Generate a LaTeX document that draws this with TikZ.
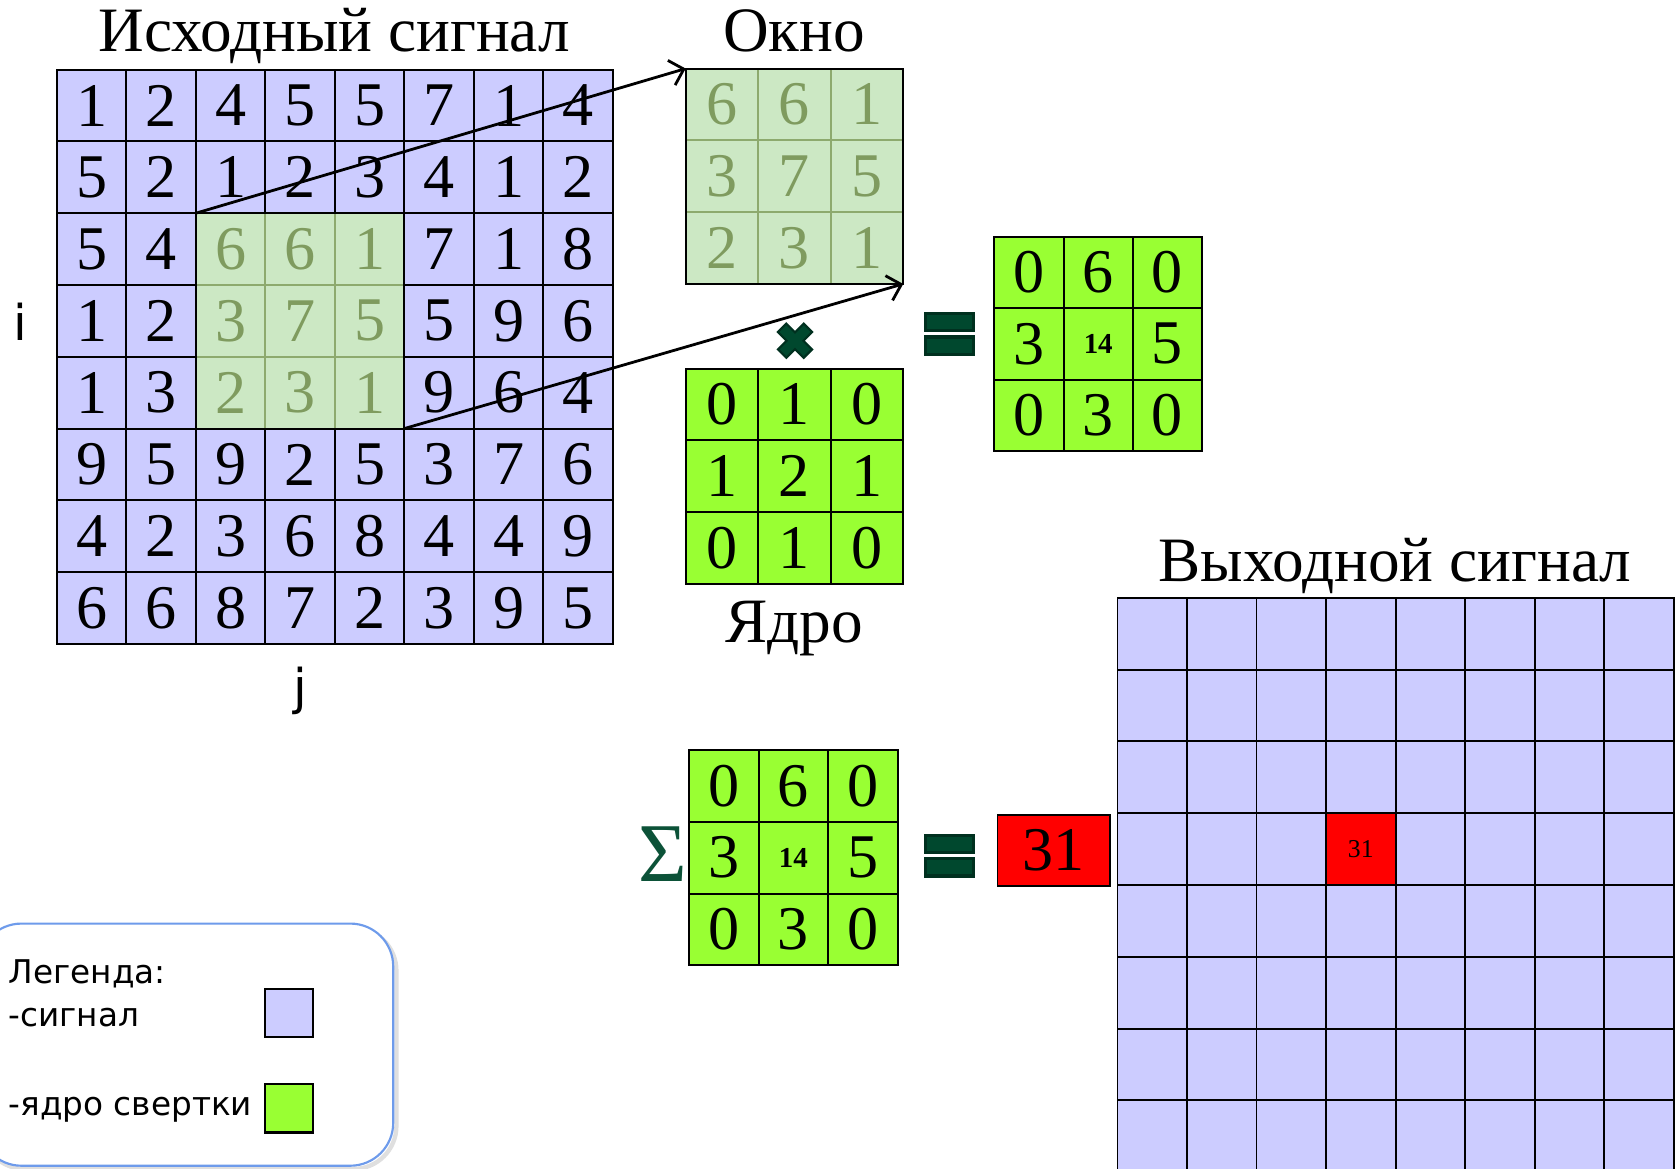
\documentclass[tikz,border=0pt]{standalone}
\usepackage{fontspec}
\setmainfont{Liberation Serif}
\newfontfamily\legfont{DejaVu Sans}
\usetikzlibrary{arrows.meta}
\definecolor{sigblue}{HTML}{CCCCFF}
\definecolor{kgreen}{HTML}{99FF33}
\definecolor{wgreen}{HTML}{CCE8C4}
\definecolor{wtext}{HTML}{7F9B5F}
\definecolor{wline}{HTML}{8DAA6E}
\definecolor{signdark}{HTML}{00301F}
\definecolor{signfill}{HTML}{00482E}
\definecolor{sigmacol}{HTML}{0C5238}
\definecolor{legborder}{HTML}{6E9BEB}
\newcommand\smallnum[1]{{\fontsize{27}{27}\selectfont\bfseries #1}}
\tikzset{
  cellbase/.style={rectangle, inner sep=0pt, outer sep=0pt, line width=1.8pt, font=\fontsize{58}{58}\selectfont},
  sigcell/.style={cellbase, draw=black, fill=sigblue},
  wincell/.style={cellbase, draw=wline, fill=wgreen, text=wtext},
  kcell/.style={cellbase, draw=black, fill=kgreen},
  redcell/.style={cellbase, draw=black, fill=red},
  title/.style={font=\fontsize{59}{59}\selectfont, anchor=base, inner sep=0pt},
  axis/.style={font=\legfont\fontsize{46}{46}\selectfont, inner sep=0pt},
  legtext/.style={font=\legfont\fontsize{30.5}{30.5}\selectfont, anchor=base west, inner sep=0pt},
  swatch/.style={draw=black, line width=2pt, minimum size=45pt, inner sep=0pt, outer sep=0pt},
  arrowline/.style={line width=2.6pt, -{Straight Barb[length=12pt,width=24pt,line width=2.6pt]}},
  signshape/.style={fill=signfill, draw=signdark, line width=3pt},
}
\begin{document}
\begin{tikzpicture}[x=1pt,y=-1pt]
\useasboundingbox (0,0) rectangle (1568,1091);
% ---------- input signal ----------
\foreach \rowvals [count=\r from 0] in {{1,2,4,5,5,7,1,4},{5,2,1,2,3,4,1,2},{5,4,6,6,1,7,1,8},{1,2,3,7,5,5,9,6},{1,3,2,3,1,9,6,4},{9,5,9,2,5,3,7,6},{4,2,3,6,8,4,4,9},{6,6,8,7,2,3,9,5}}{
  \foreach \v [count=\c from 0] in \rowvals {
    \pgfmathtruncatemacro\isg{(\r>1)*(\r<5)*(\c>1)*(\c<5)}
    \ifnum\isg=1 \def\cst{wincell}\else\def\cst{sigcell}\fi
    \node[\cst, minimum width=64.875pt, minimum height=67pt] (in-\r-\c) at ({53+64.875*(\c+0.5)},{65+67*(\r+0.5)}) {\v};
  }
}
\draw[line width=1.8pt] (in-2-2.north west) rectangle (in-4-4.south east);
\node[title] (intitle) at (312,48) {Исходный сигнал};
\node[axis] (ilab) at (19,300) {i};
\node[axis] (jlab) at (280,645) {j};
% ---------- window ----------
\foreach \rowvals [count=\r from 0] in {{6,6,1},{3,7,5},{2,3,1}}{
  \foreach \v [count=\c from 0] in \rowvals {
    \node[wincell, minimum width=67.67pt, minimum height=67pt] (win-\r-\c) at ({640+67.67*(\c+0.5)},{64+67*(\r+0.5)}) {\v};
  }
}
\draw[line width=1.8pt] (win-0-0.north west) rectangle (win-2-2.south east);
\node[title] (wintitle) at (741,48) {Окно};
% ---------- kernel ----------
\foreach \rowvals [count=\r from 0] in {{0,1,0},{1,2,1},{0,1,0}}{
  \foreach \v [count=\c from 0] in \rowvals {
    \node[kcell, minimum width=67.67pt, minimum height=67pt] (ker-\r-\c) at ({640+67.67*(\c+0.5)},{344+67*(\r+0.5)}) {\v};
  }
}
\node[title] (kertitle) at (741,600) {Ядро};
% ---------- product ----------
\foreach \rowvals [count=\r from 0] in {{0,6,0},{3,\smallnum{14},5},{0,3,0}}{
  \foreach \v [count=\c from 0] in \rowvals {
    \node[kcell, minimum width=64.67pt, minimum height=66.67pt] (prod-\r-\c) at ({928+64.67*(\c+0.5)},{221+66.67*(\r+0.5)}) {\v};
  }
}
% ---------- sum ----------
\foreach \rowvals [count=\r from 0] in {{0,6,0},{3,\smallnum{14},5},{0,3,0}}{
  \foreach \v [count=\c from 0] in \rowvals {
    \node[kcell, minimum width=65pt, minimum height=67pt] (sum-\r-\c) at ({643+65*(\c+0.5)},{700+67*(\r+0.5)}) {\v};
  }
}
\node[text=sigmacol, font=\fontsize{78}{78}\selectfont, inner sep=0pt] (sigma) at (619,797) {Σ};
% ---------- result ----------
\node[redcell, minimum width=105pt, minimum height=66pt] (res) at (983.5,794) {31};
% ---------- output grid ----------
\foreach \r in {0,...,7}{
  \foreach \c in {0,...,7}{
    \pgfmathtruncatemacro\isr{(\r==3)*(\c==3)}
    \ifnum\isr=1
      \node[redcell, font=\fontsize{24}{24}\selectfont, minimum width=64.875pt, minimum height=67pt] (out-\r-\c) at ({1043+64.875*(\c+0.5)},{558+67*(\r+0.5)}) {31};
    \else
      \node[sigcell, minimum width=64.875pt, minimum height=67pt] (out-\r-\c) at ({1043+64.875*(\c+0.5)},{558+67*(\r+0.5)}) {};
    \fi
  }
}
\node[title] (outtitle) at (1302,543) {Выходной сигнал};
% ---------- arrows ----------
\draw[arrowline] (in-2-2.north west) -- (win-0-0.north west);
\draw[arrowline] (in-4-4.south east) -- (win-2-2.south east);
% ---------- operation signs ----------
\begin{scope}[shift={(742,318)}, rotate=45]
  \draw[signshape, line width=2pt] (-17,-5.5) -- (-5.5,-5.5) -- (-5.5,-17) -- (5.5,-17) -- (5.5,-5.5) -- (17,-5.5) -- (17,5.5) -- (5.5,5.5) -- (5.5,17) -- (-5.5,17) -- (-5.5,5.5) -- (-17,5.5) -- cycle;
\end{scope}
\draw[signshape] (863.5,292.5) rectangle (908.5,308.5);
\draw[signshape] (863.5,314.5) rectangle (908.5,330.5);
\draw[signshape] (863.5,779.5) rectangle (908.5,795.5);
\draw[signshape] (863.5,801.5) rectangle (908.5,817.5);
% ---------- legend ----------
\draw[gray!25, line width=4pt, rounded corners=40pt] (-17,866) rectangle (370,1091);
\node[draw=legborder, fill=white, line width=2pt, rounded corners=40pt, minimum width=387pt, minimum height=226pt, inner sep=0pt] (legend) at (173.5,975) {};
\node[legtext] (leg1) at (8,918) {Легенда:};
\node[legtext] (leg2) at (8,958) {-сигнал};
\node[legtext] (leg3) at (8,1041) {-ядро свертки};
\node[swatch, fill=sigblue] (swblue) at (269.5,945.5) {};
\node[swatch, fill=kgreen] (swgreen) at (269.5,1034.5) {};
\end{tikzpicture}
\end{document}
